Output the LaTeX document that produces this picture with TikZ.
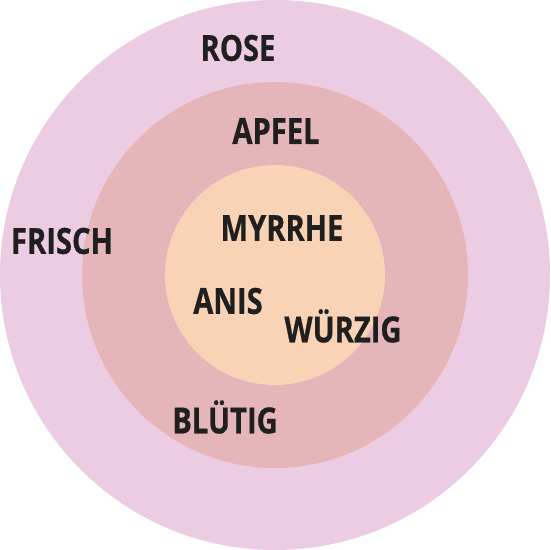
\documentclass[tikz,border=0pt]{standalone}
\usepackage{fontspec}
\newfontfamily\labfont[FakeStretch=0.81,FakeBold=0.6]{Open Sans}
\definecolor{outerc}{HTML}{ECCCE3}
\definecolor{midc}{HTML}{E4B6BA}
\definecolor{innerc}{HTML}{F9D3B6}
\definecolor{txt}{HTML}{1F1F1F}
\begin{document}
\begin{tikzpicture}[x=1pt,y=-1pt,
  lab/.style={text=txt,font=\labfont\bfseries\fontsize{36}{40}\selectfont,inner sep=0pt}]
\useasboundingbox (0,0) rectangle (550,550);
\fill[outerc] (275,275) circle[radius=275];
\fill[midc] (275,275) circle[radius=193];
\fill[innerc] (275,275) circle[radius=110];
\node[lab] (rose) at (238,48) {ROSE};
\node[lab] (apfel) at (276,131) {APFEL};
\node[lab] (frisch) at (62,241) {FRISCH};
\node[lab] (myrrhe) at (282,228) {MYRRHE};
\node[lab] (anis) at (228,301) {ANIS};
\node[lab] (wurzig) at (343,326) {WÜRZIG};
\node[lab] (blutig) at (225,417) {BLÜTIG};
\end{tikzpicture}
\end{document}
